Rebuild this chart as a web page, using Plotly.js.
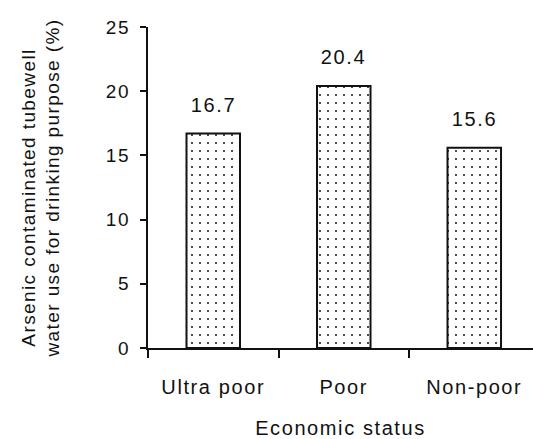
<!DOCTYPE html>
<html>
<head>
<meta charset="utf-8">
<script src="https://cdn.plot.ly/plotly-3.0.1.min.js"></script>
<style>
  html, body { margin: 0; padding: 0; background: #fff; }
  #chart { width: 533px; height: 439px; }
  #chart text { letter-spacing: 1.6px; }
  #chart .ytitle { letter-spacing: 1.4px; }
</style>
</head>
<body>
<div id="chart"></div>
<script>
const categories = ["Ultra poor", "Poor", "Non-poor"];
const values = [16.7, 20.4, 15.6];
const yTicks = [0, 5, 10, 15, 20, 25];

const ink = "#111111";
const fontFamily = "Liberation Sans, Arial, Helvetica, sans-serif";

const trace = {
  type: "bar",
  x: categories,
  y: values,
  width: 0.41,
  marker: {
    color: "#ffffff",
    line: { color: ink, width: 2 },
    pattern: { shape: ".", fgcolor: ink, bgcolor: "#ffffff", size: 8, solidity: 0.05 }
  },
  hoverinfo: "skip"
};

const annotations = categories.map((c, i) => ({
  x: c, y: values[i], xref: "x", yref: "y",
  text: values[i].toFixed(1),
  showarrow: false, yanchor: "middle", yshift: 29,
  font: { family: fontFamily, size: 20, color: ink }
}));

const layout = {
  width: 533, height: 439,
  margin: { l: 148, r: 0, t: 27, b: 91 },
  paper_bgcolor: "#ffffff", plot_bgcolor: "#ffffff",
  showlegend: false,
  font: { family: fontFamily, size: 20, color: ink },
  xaxis: {
    type: "category",
    range: [-0.5, 2.45],
    tickson: "boundaries",
    ticks: "outside", ticklen: 8, tickwidth: 2, tickcolor: ink,
    showline: true, linecolor: ink, linewidth: 2,
    showgrid: false, zeroline: false,
    ticklabelstandoff: 20,
    tickfont: { family: fontFamily, size: 20, color: ink },
    title: { text: "Economic status", standoff: 24, font: { family: fontFamily, size: 20, color: ink } }
  },
  yaxis: {
    range: [0, 25],
    tickmode: "array", tickvals: yTicks, ticktext: yTicks.map(String),
    ticks: "outside", ticklen: 6, tickwidth: 2, tickcolor: ink,
    showline: true, linecolor: ink, linewidth: 2,
    showgrid: false, zeroline: false,
    ticklabelstandoff: 6,
    tickfont: { family: fontFamily, size: 19, color: ink },
    title: { text: "Arsenic contaminated tubewell\u00a0\u00a0\u00a0<br>water use for drinking purpose (%)\u00a0\u00a0", standoff: 44,
             font: { family: fontFamily, size: 19, color: ink } }
  },
  annotations: annotations
};

Plotly.newPlot("chart", [trace], layout, { staticPlot: true, displayModeBar: false });
</script>
</body>
</html>
